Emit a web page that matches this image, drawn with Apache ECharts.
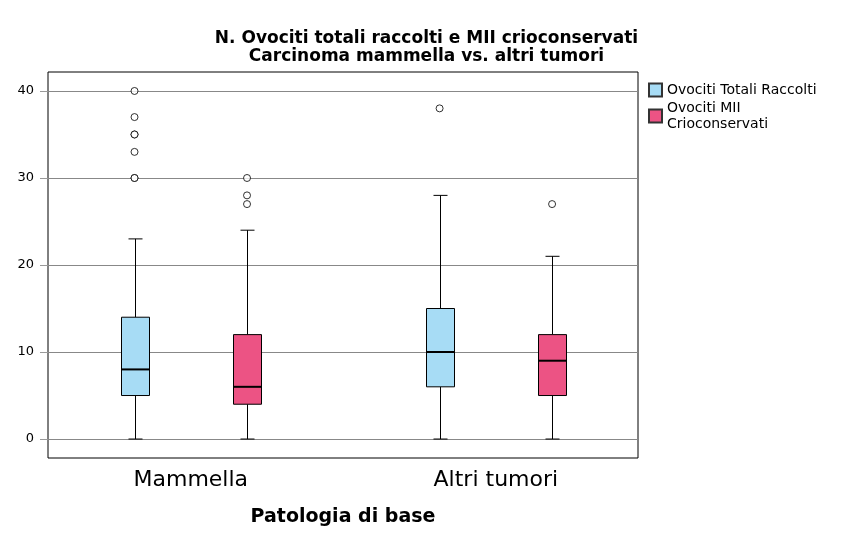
<!DOCTYPE html>
<html>
<head>
<meta charset="utf-8">
<title>Ovociti totali e MII crioconservati</title>
<script src="https://cdn.jsdelivr.net/npm/echarts@6/dist/echarts.min.js"></script>
<style>
  html, body { margin: 0; padding: 0; background: #fff; }
  #chart { width: 853px; height: 543px; }
</style>
</head>
<body>
<div id="chart"></div>
<script>
// data
var categories = ['Mammella', 'Altri tumori'];
var seriesNames = ['Ovociti Totali Raccolti', 'Ovociti MII Crioconservati'];
// [min, Q1, mediana, Q3, max] per categoria
var totaliBox = [[0, 5, 8, 14, 23], [0, 6, 10, 15, 28]];
var miiBox = [[0, 4, 6, 12, 24], [0, 5, 9, 12, 21]];
// valori anomali per categoria
var totaliOutliers = [[40, 37, 35, 35, 33, 30, 30], [38]];
var miiOutliers = [[30, 28, 27], [27]];
var yTicks = [0, 10, 20, 30, 40];

var FONT = 'DejaVu Sans';
var BOX_W = 28;
var GROUP_OFFSET = 0.1844; // distance of each box from the category centre, in axis units
var colors = ['#a7dcf5', '#ec5384'];

function boxData(boxes, side) {
  return boxes.map(function (b, i) {
    return [i + 1 + side * GROUP_OFFSET].concat(b);
  });
}

function outlierData(lists, side) {
  var pts = [];
  lists.forEach(function (vals, i) {
    vals.forEach(function (v) {
      pts.push([i + 1 + side * GROUP_OFFSET, v]);
    });
  });
  return pts;
}

function renderBox(params, api) {
  var x = api.value(0);
  var pMin = api.coord([x, api.value(1)]);
  var pQ1 = api.coord([x, api.value(2)]);
  var pMed = api.coord([x, api.value(3)]);
  var pQ3 = api.coord([x, api.value(4)]);
  var pMax = api.coord([x, api.value(5)]);
  var cx = Math.round(pMin[0]) + 0.5;
  var half = BOX_W / 2;
  var cap = BOX_W / 4;
  var line = { stroke: '#000', lineWidth: 1 };
  return {
    type: 'group',
    children: [
      { type: 'line', shape: { x1: cx, y1: pMin[1], x2: cx, y2: pQ1[1] }, style: line },
      { type: 'line', shape: { x1: cx, y1: pQ3[1], x2: cx, y2: pMax[1] }, style: line },
      { type: 'line', shape: { x1: cx - cap, y1: pMin[1], x2: cx + cap, y2: pMin[1] }, style: line },
      { type: 'line', shape: { x1: cx - cap, y1: pMax[1], x2: cx + cap, y2: pMax[1] }, style: line },
      {
        type: 'rect',
        shape: { x: cx - half, y: pQ3[1], width: BOX_W, height: pQ1[1] - pQ3[1] },
        style: { fill: api.visual('color'), stroke: '#000', lineWidth: 1 }
      },
      { type: 'line', shape: { x1: cx - half, y1: pMed[1], x2: cx + half, y2: pMed[1] }, style: { stroke: '#000', lineWidth: 2 } }
    ]
  };
}

var chart = echarts.init(document.getElementById('chart'));
var option = {
  animation: false,
  backgroundColor: '#fff',
  textStyle: { fontFamily: FONT },
  title: {
    text: 'N. Ovociti totali raccolti e MII crioconservati\nCarcinoma mammella vs. altri tumori',
    left: 'center',
    top: 30,
    padding: 0,
    textStyle: { fontFamily: FONT, fontSize: 17, fontWeight: 'bold', lineHeight: 18, color: '#000' }
  },
  legend: {
    orient: 'vertical',
    left: 648,
    top: 82,
    padding: 0,
    itemGap: 2,
    itemWidth: 13,
    itemHeight: 13,
    icon: 'rect',
    data: seriesNames,
    formatter: function (name) {
      return name.replace('MII ', 'MII\n');
    },
    textStyle: { fontFamily: FONT, fontSize: 14, lineHeight: 16, color: '#000' }
  },
  grid: {
    left: 48,
    top: 72,
    width: 590,
    height: 386,
    show: true,
    borderColor: '#000',
    borderWidth: 1
  },
  xAxis: {
    type: 'value',
    min: 0.532,
    max: 2.466,
    name: 'Patologia di base',
    nameLocation: 'middle',
    nameGap: 50,
    nameTextStyle: { fontFamily: FONT, fontSize: 19, fontWeight: 'bold', color: '#000' },
    axisLine: { show: false },
    axisTick: { show: false },
    splitLine: { show: false },
    axisLabel: {
      customValues: [1, 2],
      formatter: function (v) { return categories[Math.round(v) - 1]; },
      fontFamily: FONT,
      fontSize: 22,
      color: '#000',
      margin: 11
    }
  },
  yAxis: {
    type: 'value',
    min: -2.18,
    max: 42.18,
    axisLine: { show: false },
    axisTick: { show: true, customValues: yTicks, length: 8, lineStyle: { color: '#999' } },
    axisLabel: { customValues: yTicks, fontFamily: FONT, fontSize: 13, color: '#000', margin: 14 },
    splitLine: { show: true, lineStyle: { color: '#888', width: 1 } }
  },
  series: [
    {
      name: seriesNames[0],
      type: 'custom',
      renderItem: renderBox,
      itemStyle: { color: colors[0], borderColor: '#333', borderWidth: 1 },
      encode: { x: 0, y: [1, 2, 3, 4, 5] },
      data: boxData(totaliBox, -1)
    },
    {
      name: seriesNames[1],
      type: 'custom',
      renderItem: renderBox,
      itemStyle: { color: colors[1], borderColor: '#333', borderWidth: 1 },
      encode: { x: 0, y: [1, 2, 3, 4, 5] },
      data: boxData(miiBox, 1)
    },
    {
      name: 'Outlier totali',
      type: 'scatter',
      symbol: 'circle',
      symbolSize: 7,
      itemStyle: { color: '#fff', borderColor: '#000', borderWidth: 1 },
      data: outlierData(totaliOutliers, -1)
    },
    {
      name: 'Outlier MII',
      type: 'scatter',
      symbol: 'circle',
      symbolSize: 7,
      itemStyle: { color: '#fff', borderColor: '#000', borderWidth: 1 },
      data: outlierData(miiOutliers, 1)
    }
  ]
};
chart.setOption(option);
</script>
</body>
</html>
